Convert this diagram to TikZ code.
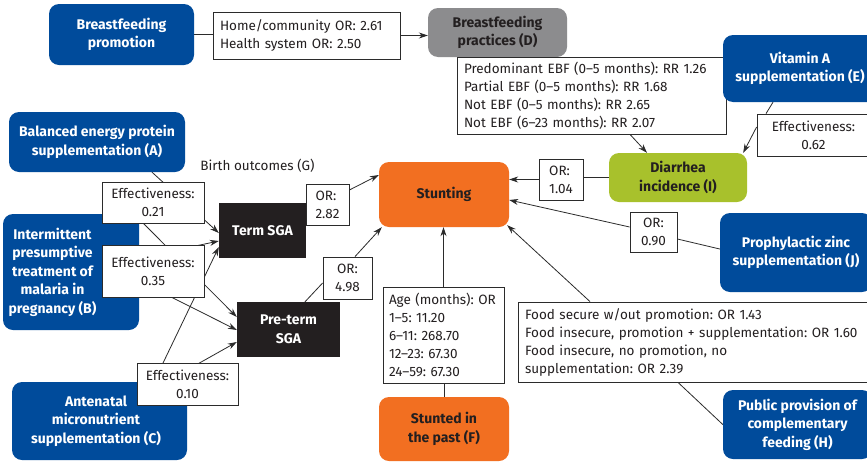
\documentclass[tikz,border=0pt]{standalone}
\usepackage{fontspec}
\setmainfont{Fira Sans}
\usetikzlibrary{arrows.meta,calc}
\pgfdeclarelayer{bg}
\pgfsetlayers{bg,main}
\definecolor{nblue}{HTML}{004B9B}
\definecolor{norange}{HTML}{F26F21}
\definecolor{ngray}{HTML}{8C8C8E}
\definecolor{ngreen}{HTML}{A8C12C}
\definecolor{nblack}{HTML}{231F20}
\definecolor{lineg}{HTML}{2B2B2B}
\begin{document}
\frenchspacing
\begin{tikzpicture}[x=1pt,y=-1pt,
  font=\fontsize{13.5}{18}\selectfont\frenchspacing,
  base/.style={rectangle,inner sep=0pt,align=center},
  wbox/.style={base,draw=lineg,fill=white,line width=0.8pt,text=nblack},
  lbox/.style={wbox,align=left,inner xsep=7pt},
  boldtxt/.style={font=\fontsize{14}{18.5}\selectfont\bfseries\frenchspacing},
  rbox/.style={base,rounded corners=10pt,boldtxt},
  bluebox/.style={rbox,fill=nblue,text=white},
  orbox/.style={rbox,fill=norange,text=nblack},
  graybox/.style={rbox,fill=ngray,text=nblack},
  greenbox/.style={rbox,fill=ngreen,text=nblack},
  blackbox/.style={base,fill=nblack,text=white,boldtxt},
  conn/.style={draw=lineg,line width=0.8pt},
  arr/.style={conn,-{Stealth[length=9pt,width=6pt]}}
]
\useasboundingbox (0,0) rectangle (867,461);
\begin{pgfonlayer}{bg}
\fill[white] (0,0) rectangle (867,461);
\end{pgfonlayer}

% nodes
\node[bluebox,minimum width=145,minimum height=61] (bfp) at (121.5,34.5) {Breastfeeding\\promotion};
\node[lbox,minimum width=187,minimum height=47,text width=173] (hc) at (306.5,35.5) {Home/community OR: 2.61\\Health system OR: 2.50};
\node[graybox,minimum width=139,minimum height=49] (bfd) at (497.5,32.5) {Breastfeeding\\practices (D)};
\node[lbox,minimum width=269,minimum height=77,text width=255] (ebf) at (591.5,95.5) {Predominant EBF (0--5 months): RR 1.26\\Partial EBF (0--5 months): RR 1.68\\Not EBF (0--5 months): RR 2.65\\Not EBF (6--23 months): RR 2.07};
\node[bluebox,minimum width=154,minimum height=67] (vita) at (800,68.5) {Vitamin A\\supplementation (E)};
\node[wbox,minimum width=113,minimum height=42] (eff62) at (813.5,135) {Effectiveness:\\0.62};
\node[greenbox,minimum width=138,minimum height=49] (dia) at (678,177.5) {Diarrhea\\incidence (I)};
\node[wbox,align=left,minimum width=44,minimum height=41] (or104) at (561,179.5) {OR:\\1.04};
\node[orbox,minimum width=130,minimum height=65] (stunt) at (444,194.5) {Stunting};
\node[text=nblack] (birth) at (257.5,166) {Birth outcomes (G)};
\node[blackbox,minimum width=87,minimum height=55] (term) at (262.5,230.5) {Term SGA};
\node[wbox,align=left,minimum width=43,minimum height=41] (or282) at (327.5,204.5) {OR:\\2.82};
\node[blackbox,minimum width=103,minimum height=55] (pre) at (288.5,329.5) {Pre-term\\SGA};
\node[wbox,minimum width=49,minimum height=42] (or498) at (347.5,278) {OR:\\4.98};
\node[bluebox,minimum width=176,minimum height=60] (A) at (97,142) {Balanced energy protein\\supplementation (A)};
\node[bluebox,minimum width=136,minimum height=116] (B) at (71,272) {};
\node[base,boldtxt,text=white] (Btxt) at (52.5,272) {Intermittent\\presumptive\\treatment of\\malaria in\\pregnancy (B)};
\node[bluebox,minimum width=175,minimum height=78] (C) at (99.5,421) {};
\node[base,boldtxt,text=white] (Ctxt) at (96,421) {Antenatal\\micronutrient\\supplementation (C)};
\node[wbox,minimum width=102,minimum height=41] (eff21) at (153,202.5) {Effectiveness:\\0.21};
\node[wbox,minimum width=102,minimum height=52] (eff35) at (153,271) {Effectiveness:\\0.35};
\node[wbox,minimum width=101,minimum height=42] (eff10) at (187.5,384) {Effectiveness:\\0.10};
\node[lbox,inner xsep=6pt,minimum width=121,minimum height=96,text width=109] (age) at (443.5,335) {Age (months): OR\\1--5: 11.20\\6--11: 268.70\\12--23: 67.30\\24--59: 67.30};
\node[orbox,minimum width=130,minimum height=64] (F) at (444,429) {Stunted in\\the past (F)};
\node[lbox,minimum width=357,minimum height=80,text width=343] (food) at (696.5,342) {Food secure w/out promotion: OR 1.43\\Food insecure, promotion + supplementation: OR 1.60\\Food insecure, no promotion, no\\supplementation: OR 2.39};
\node[bluebox,minimum width=152,minimum height=79] (zinc) at (796,252.5) {Prophylactic zinc\\supplementation (J)};
\node[wbox,minimum width=47,minimum height=40] (or090) at (653.5,232) {OR:\\0.90};
\node[bluebox,minimum width=149,minimum height=69] (H) at (797.5,424.5) {Public provision of\\complementary\\feeding (H)};

\coordinate (a2) at (125,205);

\begin{pgfonlayer}{bg}
\draw[conn] (bfp.east) -- (bfp.east -| hc.west);
\draw[arr] (hc.east) -- (hc.east -| bfd.west);
\draw[arr] ([xshift=38.5]ebf.south) -- ([xshift=-31]dia.north);
\draw[conn] ([xshift=-27]vita.south) -- ([xshift=-47.5]eff62.north);
\draw[arr] ([yshift=8]eff62.west) -- ([xshift=-4]dia.north east);
\draw[conn] (dia.west) -- (dia.west -| or104.east);
\draw[arr] (or104.west) -- (or104.west -| stunt.east);
\draw[arr] ([yshift=14.5]or282.east) -- ([yshift=19.5]stunt.west);
\draw[conn] ([xshift=16.5]pre.north) -- ([yshift=-5]or498.west);
\draw[arr] ([xshift=7.5]or498.north) -- ([xshift=3]stunt.south west);
\draw[arr] (age.north) -- (age.north |- stunt.south);
\draw[conn] (F.north) -- (F.north |- age.south);
\draw[arr] ([xshift=-106.5]food.north) -- ([xshift=-2,yshift=2]stunt.south east);
\draw[conn] (H.west) -- ([xshift=-18.5]food.south);
\draw[conn] ([yshift=3.5]zinc.west) -- ([yshift=-7]or090.east);
\draw[arr] ([yshift=5]or090.west) -- ([yshift=-5.5]stunt.east);
% birth outcomes
\draw[arr] ([xshift=55]A.south) -- ([yshift=-2.5]term.west);
\draw[arr] (a2) -- ([yshift=12.5]pre.west);
\draw[arr] ([yshift=14]B.east) -- ([yshift=-10.5]term.west);
\draw[arr] ([yshift=-9]B.east) -- ([yshift=-0.5]pre.west);
\draw[arr] ([xshift=54.5]C.north) -- ([yshift=-16.5]term.west);
\draw[arr] ([xshift=66.5]C.north) -- ([yshift=-12.5]pre.west);
\end{pgfonlayer}
\end{tikzpicture}
\end{document}
